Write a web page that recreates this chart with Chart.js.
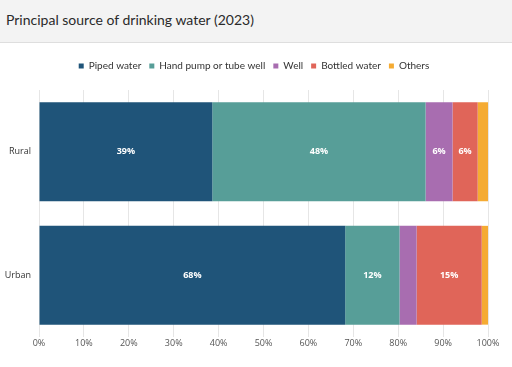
<!DOCTYPE html>
<html>
<head>
<meta charset="utf-8">
<script src="https://cdn.jsdelivr.net/npm/chart.js@4.4.1/dist/chart.umd.min.js"></script>
<style>
  html, body { margin: 0; padding: 0; background: #fff; }
  .header {
    height: 43px;
    background: #f3f3f3;
    border-bottom: 1px solid #dedede;
    box-sizing: border-box;
  }
  .header h1 {
    margin: 0;
    padding: 11px 0 0 6px;
    font: 400 14px "Lato", "Open Sans", sans-serif;
    color: #2a2a2a;
  }
  .wrap { position: relative; width: 512px; height: 324px; }
</style>
</head>
<body>
<div class="header"><h1>Principal source of drinking water (2023)</h1></div>
<div class="wrap"><canvas id="chart"></canvas></div>
<script>
// data
const areas = ['Rural', 'Urban'];
const sources = ['Piped water', 'Hand pump or tube well', 'Well', 'Bottled water', 'Others'];
const pipedWater = [38.6, 68.2];
const handPump = [47.5, 12.1];
const well = [6.0, 3.8];
const bottledWater = [5.6, 14.5];
const others = [2.3, 1.4];
const xTicks = [0, 10, 20, 30, 40, 50, 60, 70, 80, 90, 100];

const colors = ['#1f5479', '#579e98', '#a86db0', '#e06559', '#f5ab33'];
const seriesValues = [pipedWater, handPump, well, bottledWater, others];

// white % labels in the middle of each big-enough segment
const segmentLabels = {
  id: 'segmentLabels',
  afterDatasetsDraw(chart) {
    const ctx = chart.ctx;
    ctx.save();
    ctx.fillStyle = '#ffffff';
    ctx.font = 'bold 9px "Open Sans", sans-serif';
    ctx.textAlign = 'center';
    ctx.textBaseline = 'middle';
    chart.data.datasets.forEach((ds, i) => {
      const meta = chart.getDatasetMeta(i);
      meta.data.forEach((bar, j) => {
        const v = ds.data[j];
        if (v < 5) return;
        ctx.fillText(Math.round(v) + '%', (bar.x + bar.base) / 2, bar.y);
      });
    });
    ctx.restore();
  }
};

// extra gap under the legend, and nudge it right a bit
const legendTweak = {
  id: 'legendTweak',
  beforeLayout(chart) {
    const lg = chart.legend;
    if (lg && !lg._patched) {
      const fit = lg.fit.bind(lg);
      const draw = lg.draw.bind(lg);
      lg.fit = function () { fit(); this.height += 9; };
      lg.draw = function () {
        const ctx = this.ctx;
        ctx.save();
        ctx.translate(10, 0);
        draw();
        ctx.restore();
      };
      lg._patched = true;
    }
  }
};

new Chart(document.getElementById('chart'), {
  type: 'bar',
  data: {
    labels: areas,
    datasets: sources.map((name, i) => ({
      label: name,
      data: seriesValues[i],
      backgroundColor: colors[i],
      borderWidth: 0,
      barPercentage: 0.8,
      categoryPercentage: 1.0
    }))
  },
  options: {
    indexAxis: 'y',
    responsive: true,
    maintainAspectRatio: false,
    animation: false,
    layout: { padding: { top: 10, right: 24, bottom: 0, left: 0 } },
    scales: {
      x: {
        stacked: true,
        min: 0,
        max: 100,
        afterBuildTicks: (scale) => { scale.ticks = xTicks.map(v => ({ value: v })); },
        grid: { color: '#e6e6e6', drawTicks: false },
        border: { display: false },
        ticks: {
          padding: 1,
          color: '#555',
          font: { family: '"Open Sans", sans-serif', size: 9 },
          callback: v => v + '%'
        },
        afterFit: (scale) => { scale.height = 30; }
      },
      y: {
        stacked: true,
        grid: { display: false, drawTicks: false },
        border: { display: false },
        ticks: {
          padding: 8,
          color: '#333',
          font: { family: '"Open Sans", sans-serif', size: 9 }
        },
        afterFit: (scale) => { scale.width = 39; }
      }
    },
    plugins: {
      legend: {
        position: 'top',
        labels: {
          usePointStyle: true,
          pointStyle: 'rect',
          boxWidth: 5,
          boxHeight: 5,
          padding: 8,
          color: '#333',
          font: { family: '"Lato", sans-serif', size: 10 }
        }
      },
      tooltip: { enabled: false }
    }
  },
  plugins: [segmentLabels, legendTweak]
});
</script>
</body>
</html>
